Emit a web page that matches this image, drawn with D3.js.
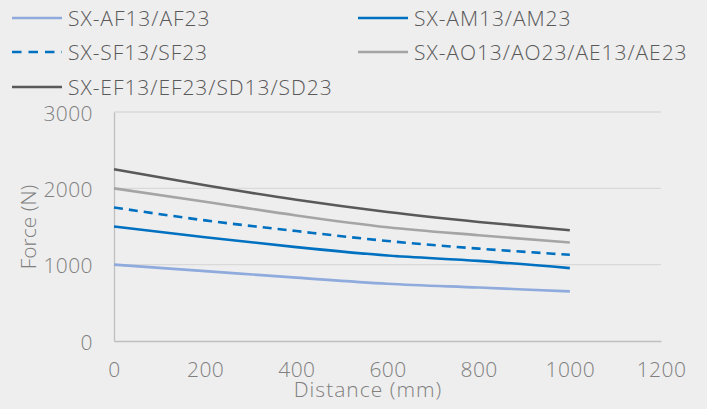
<!DOCTYPE html>
<html><head><meta charset="utf-8">
<script src="https://cdn.jsdelivr.net/npm/d3@7"></script>
<style>
html,body{margin:0;padding:0;background:#EEEEEE;}
svg{display:block;}
text{font-family:"Open Sans","Noto Sans",sans-serif;font-weight:300;}
</style></head>
<body>
<svg id="chart" width="707" height="409"></svg>
<script>
const distances = [0, 200, 400, 600, 800, 1000];
const seriesNames = ["SX-AF13/AF23", "SX-AM13/AM23", "SX-SF13/SF23", "SX-AO13/AO23/AE13/AE23", "SX-EF13/EF23/SD13/SD23"];
const afValues = [1000, 915, 830, 750, 700, 650];
const amValues = [1500, 1360, 1230, 1120, 1050, 955];
const sfValues = [1750, 1580, 1440, 1310, 1210, 1130];
const aoValues = [2000, 1825, 1645, 1490, 1385, 1290];
const efValues = [2250, 2040, 1850, 1690, 1560, 1450];
const xTicks = [0, 200, 400, 600, 800, 1000, 1200];
const yTicks = [0, 1000, 2000, 3000];
const xTitle = "Distance (mm)";
const yTitle = "Force (N)";

const seriesValues = [afValues, amValues, sfValues, aoValues, efValues];
const styles = [
  {color:"#8FAADC", dash:null},
  {color:"#0070C0", dash:null},
  {color:"#0070C0", dash:"9,6"},
  {color:"#A5A5A5", dash:null},
  {color:"#595959", dash:null}
];
const FONT = '"Open Sans","Noto Sans",sans-serif';

const svg = d3.select("#chart");
const x = d3.scaleLinear().domain([0, 1200]).range([114, 661]);
const y = d3.scaleLinear().domain([0, 3000]).range([341, 112]);

// gridlines
svg.append("g").selectAll("line").data(yTicks.filter(d => d > 0)).join("line")
  .attr("x1", x(0)).attr("x2", x(1200))
  .attr("y1", d => y(d)).attr("y2", d => y(d))
  .attr("stroke", "#D9D9D9").attr("stroke-width", 1.3);

// axes
const xAxis = svg.append("g").attr("transform", `translate(0,${y(0)})`)
  .call(d3.axisBottom(x).tickValues(xTicks).tickSize(0).tickFormat(d3.format("d")));
xAxis.select(".domain").attr("stroke", "#BFBFBF").attr("stroke-width", 1.3);
xAxis.selectAll(".tick text").attr("dy", null).attr("y", 36);
const yAxis = svg.append("g").attr("transform", `translate(${x(0)},0)`)
  .call(d3.axisLeft(y).tickValues(yTicks).tickSize(0).tickFormat(d3.format("d")));
yAxis.select(".domain").attr("stroke", "#BFBFBF").attr("stroke-width", 1.3);
yAxis.selectAll(".tick text").attr("dy", null).attr("y", 8).attr("x", -21);
svg.selectAll(".tick text").attr("fill", "#808080").attr("font-size", 21)
  .attr("font-family", FONT).attr("font-weight", 300).attr("letter-spacing", 0.4);

// titles
svg.append("text").attr("x", 368).attr("y", 397).attr("text-anchor", "middle")
  .attr("fill", "#808080").attr("font-size", 21).attr("letter-spacing", 1).text(xTitle);
svg.append("text").attr("transform", "translate(36,227) rotate(-90)").attr("text-anchor", "middle")
  .attr("fill", "#808080").attr("font-size", 21).text(yTitle);

// lines
const line = d3.line().x((d, i) => x(distances[i])).y(d => y(d)).curve(d3.curveMonotoneX);
svg.append("g").selectAll("path").data(seriesValues).join("path")
  .attr("d", d => line(d)).attr("fill", "none")
  .attr("stroke", (d, i) => styles[i].color)
  .attr("stroke-width", 2.6)
  .attr("stroke-dasharray", (d, i) => styles[i].dash);

// legend
const legendPos = [[12,18],[358,18],[12,52],[358,52],[12,87]];
const lg = svg.append("g").selectAll("g").data(seriesNames).join("g")
  .attr("transform", (d, i) => `translate(${legendPos[i][0]},${legendPos[i][1]})`);
lg.append("line").attr("x1", 0).attr("x2", 50).attr("y1", 0).attr("y2", 0)
  .attr("stroke", (d, i) => styles[i].color).attr("stroke-width", 2.6)
  .attr("stroke-dasharray", (d, i) => styles[i].dash ? "9.5,7" : null);
lg.append("text").attr("x", 56).attr("y", 8)
  .attr("fill", "#595959").attr("font-size", 21).attr("letter-spacing", 0.95).text(d => d);
</script>
</body></html>
